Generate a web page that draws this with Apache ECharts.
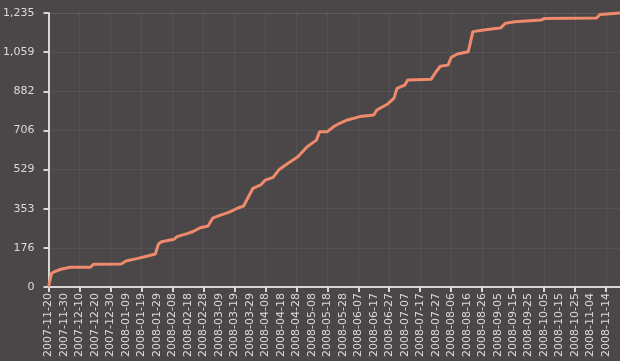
<!DOCTYPE html>
<html>
<head>
<meta charset="utf-8">
<script src="https://cdn.jsdelivr.net/npm/echarts@6/dist/echarts.min.js"></script>
<style>
html,body{margin:0;padding:0;background:#4b4648;}
#chart{width:620px;height:361px;}
</style>
</head>
<body>
<div id="chart"></div>
<script>
// Category range (daily)
const startDate = '2007-11-20';
const endDate = '2008-11-23';

// Y axis tick labels
const yTicks = [0, 176, 353, 529, 706, 882, 1059, 1235];

// Traced points of the cumulative line
const pointDates = [
  '2007-11-20','2007-11-21','2007-11-22','2007-11-24','2007-11-28','2007-12-04','2007-12-17','2007-12-19',
  '2008-01-06','2008-01-09','2008-01-16','2008-01-23','2008-01-28','2008-01-30','2008-02-01','2008-02-09',
  '2008-02-11','2008-02-18','2008-02-21','2008-02-26','2008-03-02','2008-03-05','2008-03-10','2008-03-15',
  '2008-03-21','2008-03-25','2008-03-27','2008-03-31','2008-04-05','2008-04-08','2008-04-13','2008-04-17',
  '2008-04-22','2008-04-29','2008-05-05','2008-05-11','2008-05-13','2008-05-18','2008-05-22','2008-05-26',
  '2008-05-31','2008-06-08','2008-06-17','2008-06-19','2008-06-26','2008-06-30','2008-07-02','2008-07-07',
  '2008-07-09','2008-07-24','2008-07-27','2008-07-30','2008-08-04','2008-08-06','2008-08-10','2008-08-17',
  '2008-08-20','2008-08-27','2008-09-05','2008-09-07','2008-09-10','2008-09-16','2008-10-03','2008-10-05',
  '2008-11-08','2008-11-10','2008-11-17','2008-11-23'
];
const pointValues = [
  0, 0, 62, 69, 80, 89, 89, 102,
  104, 117, 128, 140, 149, 194, 204, 215,
  227, 242, 249, 267, 275, 310, 324, 335,
  355, 365, 392, 445, 460, 482, 494, 530,
  554, 587, 632, 662, 700, 700, 722, 738,
  753, 768, 775, 798, 825, 850, 895, 910,
  933, 936, 968, 995, 1000, 1035, 1050, 1060,
  1151, 1158, 1166, 1168, 1189, 1196, 1203, 1210,
  1213, 1228, 1232, 1235
];

// build daily category list
function fmt(d){
  const m = String(d.getUTCMonth()+1).padStart(2,'0');
  const dd = String(d.getUTCDate()).padStart(2,'0');
  return d.getUTCFullYear()+'-'+m+'-'+dd;
}
const categories = [];
{
  let d = new Date(startDate+'T00:00:00Z');
  const e = new Date(endDate+'T00:00:00Z');
  while (d <= e) { categories.push(fmt(d)); d = new Date(d.getTime()+86400000); }
}
const seriesData = pointDates.map((d,i)=>[d, pointValues[i]]);

const axisColor = '#d9d6d6';
const chart = echarts.init(document.getElementById('chart'));
chart.setOption({
  backgroundColor: '#4b4648',
  animation: false,
  grid: {left: 48, right: 0, top: 13, bottom: 74},
  xAxis: {
    type: 'category',
    data: categories,
    boundaryGap: false,
    axisLine: {lineStyle: {color: axisColor, width: 2}},
    axisTick: {interval: 19, length: 5, lineStyle: {color: axisColor, width: 2}},
    axisLabel: {
      interval: 9, rotate: 90, color: '#dcdada', fontSize: 11,
      fontFamily: 'DejaVu Sans', margin: 6
    },
    splitLine: {show: true, interval: 19, lineStyle: {color: 'rgba(255,255,255,0.06)', width: 1}}
  },
  yAxis: {
    type: 'value',
    min: 0,
    max: 1235,
    interval: 1235/7,
    axisLine: {show: true, lineStyle: {color: axisColor, width: 2}},
    axisTick: {show: true, length: 5, lineStyle: {color: axisColor, width: 2}},
    axisLabel: {
      color: '#dcdada', fontSize: 11, fontFamily: 'DejaVu Sans', margin: 14,
      formatter: v => {
        const r = Math.round(v);
        const t = yTicks.reduce((a,b)=>Math.abs(b-r)<Math.abs(a-r)?b:a);
        return t.toLocaleString('en-US');
      }
    },
    splitLine: {show: true, lineStyle: {color: 'rgba(255,255,255,0.06)', width: 1}}
  },
  series: [{
    type: 'line',
    data: seriesData,
    showSymbol: false,
    symbol: 'none',
    clip: false,
    lineStyle: {color: '#f08a6c', width: 3}
  }]
});
</script>
</body>
</html>
